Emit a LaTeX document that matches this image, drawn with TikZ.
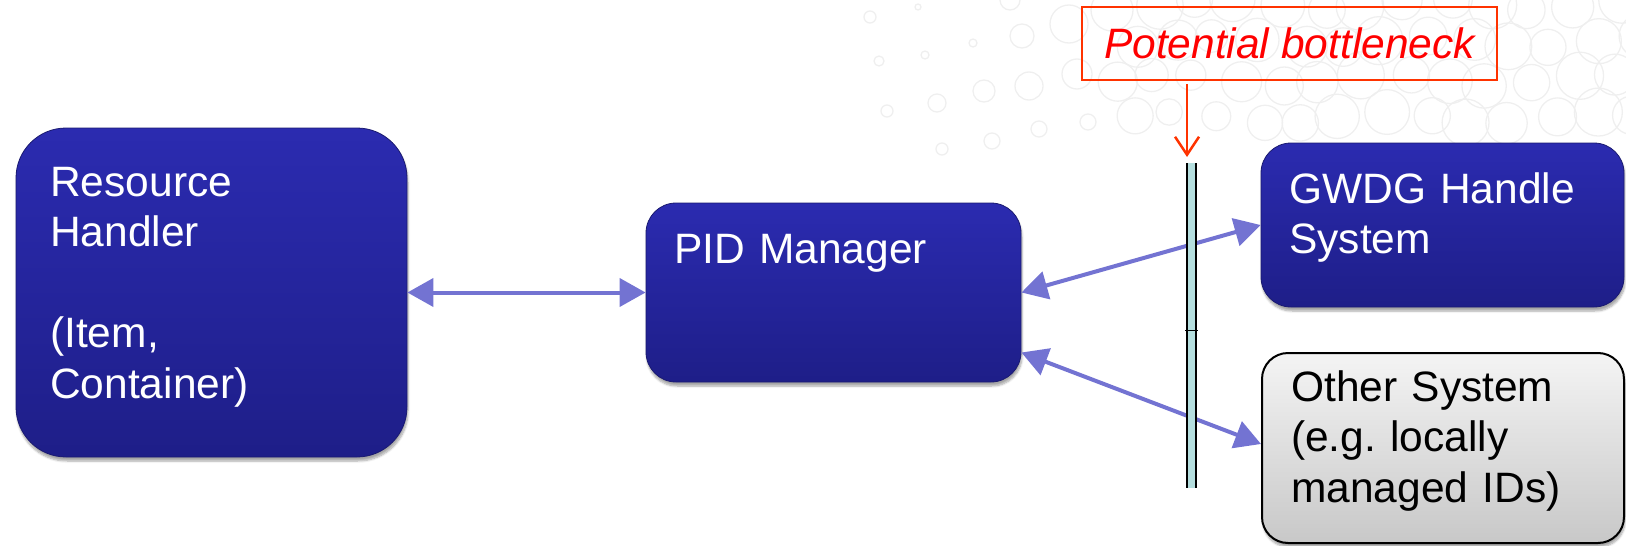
\documentclass[tikz,border=0pt]{standalone}
\usepackage{fontspec}
\setmainfont{Liberation Sans}
\usetikzlibrary{arrows.meta,shadows.blur,calc}
\frenchspacing

\definecolor{boxtop}{RGB}{43,43,176}
\definecolor{boxbot}{RGB}{30,30,136}
\definecolor{boxedge}{RGB}{26,26,112}
\definecolor{linkc}{RGB}{115,115,210}
\definecolor{alert}{RGB}{255,51,0}
\definecolor{alerttext}{RGB}{255,0,0}
\definecolor{barfill}{RGB}{180,222,222}
\definecolor{bubble}{RGB}{239,239,239}
\definecolor{greytop}{RGB}{244,244,244}
\definecolor{greybot}{RGB}{200,200,200}

\tikzset{
  boxshadow/.style={blur shadow={shadow xshift=1pt, shadow yshift=-4pt,
      shadow blur steps=6, shadow opacity=35}},
  bluebox/.style={rectangle, rounded corners=#1, top color=boxtop,
      bottom color=boxbot, draw=boxedge, line width=0.8pt, inner sep=0pt, boxshadow},
  greybox/.style={rectangle, rounded corners=#1, top color=greytop,
      bottom color=greybot, draw=black, line width=2pt, inner sep=0pt, boxshadow},
  boxtext/.style={inner sep=0pt, anchor=base west, align=left, text width=340pt,
      font=\fontsize{42.5}{50.5}\selectfont},
  link/.style={draw=linkc, line width=4pt, >={Triangle[length=26pt,width=28pt]}, <->},
  bubbleline/.style={draw=bubble, line width=1.3pt},
  barline/.style={draw=black, line width=2pt}
}

\begin{document}
\begin{tikzpicture}[x=1pt,y=-1pt]
  \useasboundingbox (0,0) rectangle (1626,546);
  \clip (0,0) rectangle (1626,546);

  % faint bubble pattern in the upper right
  \foreach \bx/\by/\br in {870/17/6, 918/7/3, 1022/36/12, 1069/24/19, 973/43/4,
      879/61/5, 925/55/4, 1077/74/15, 1029/86/14, 984/91/11, 937/103/9,
      887/111/6, 1039/129/8, 1088/122/8, 992/141/8, 942/149/6, 1010/0/10}{
    \draw[bubbleline] (\bx,\by) circle[radius=\br];
  }
  \foreach \i in {0,...,12}{
    \foreach \j in {0,...,3}{
      \pgfmathsetmacro\cx{1112+42*\i+21*mod(\j,2)+6*sin(97*\i+53*\j)}
      \pgfmathsetmacro\cy{4+38*\j+6*cos(71*\i+37*\j)}
      \pgfmathsetmacro\cr{21+3*sin(131*\i+29*\j)-2*\j*(\i<4)}
      \draw[bubbleline] (\cx,\cy) circle[radius=\cr];
    }
  }

  % boxes
  \node[bluebox=50pt, minimum width=391pt, minimum height=329pt] (rh) at (211.5,292.5) {};
  \node[bluebox=30pt, minimum width=375pt, minimum height=179pt] (pid) at (833.5,292.5) {};
  \node[bluebox=30pt, minimum width=363pt, minimum height=164pt] (gwdg) at (1442.5,225) {};
  \node[greybox=26pt, minimum width=362pt, minimum height=190pt] (other) at (1443,448) {};

  % box labels
  \node[boxtext, text=white] (rh-label) at (50,196)
    {Resource\\Handler\\[50.5pt](Item,\\Container)};
  \node[boxtext, text=white] (pid-label) at (674,263) {PID Manager};
  \node[boxtext, text=white] (gwdg-label) at (1289,203) {GWDG Handle\\System};
  \node[boxtext, text=black] (other-label) at (1291,401)
    {Other System\\(e.g. locally\\managed IDs)};

  % connectors
  \draw[link] (rh.east) -- (pid.west);
  \draw[link] (pid.east) -- (gwdg.west);
  \draw[link] ([yshift=-60pt]pid.east) -- ([yshift=-92pt]other.north west);

  % the barrier between the manager and the handle services
  \coordinate (bar-l) at (1187,163);
  \coordinate (bar-r) at (1196,488);
  \fill[barfill] (bar-l) rectangle (bar-r);
  \draw[barline] (bar-l) -- (bar-l |- bar-r);
  \draw[barline] (bar-l -| bar-r) -- (bar-r);
  \draw[draw=black, line width=1pt] (1185,330) -- (1198,330);

  % callout
  \node[draw=alert, line width=2.5pt, minimum width=415pt, minimum height=73pt,
        inner sep=0pt, text=alerttext, font=\fontsize{42.5}{50}\selectfont\itshape]
        (bn) at (1289.5,43.5) {Potential bottleneck};
  \draw[alert, line width=2.5pt, >={Straight Barb[length=18pt,width=24pt]}, ->,
        shorten <=3pt] (bn.south -| bar-l) -- ([yshift=6pt]bar-l);
\end{tikzpicture}
\end{document}
